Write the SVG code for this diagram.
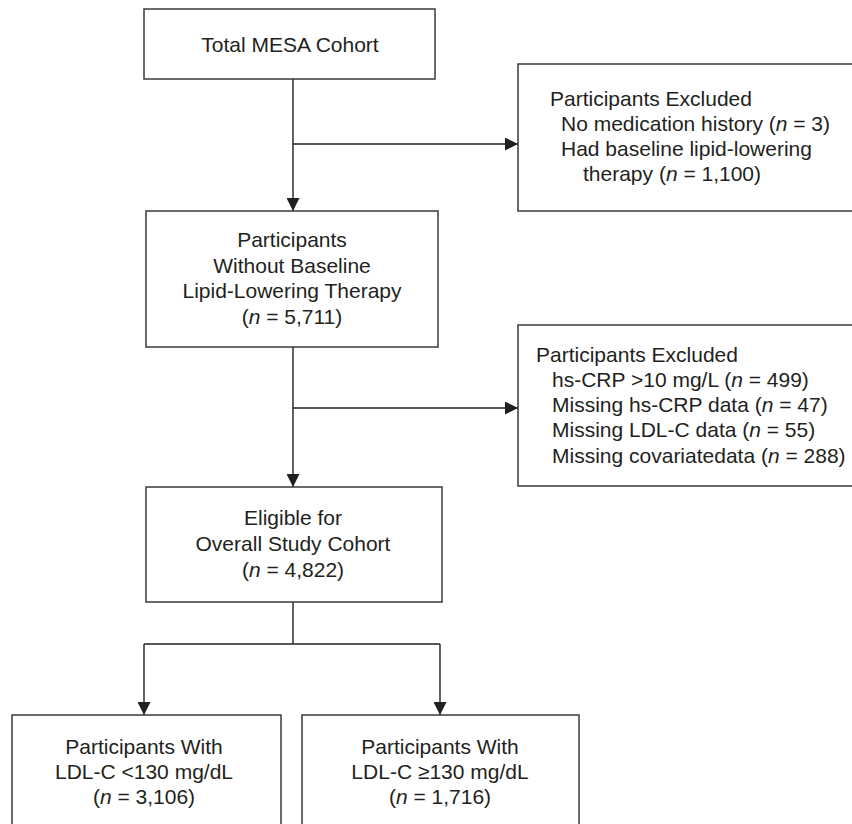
<svg xmlns="http://www.w3.org/2000/svg" width="852" height="824" viewBox="0 0 852 824">
<style>
.box{fill:#ffffff;stroke:#3a3a3a;stroke-width:1.5}
.t{font-family:"Liberation Sans",Arial,sans-serif;font-size:21px;fill:#231f20}
.c{text-anchor:middle}
.i{font-style:italic}
.ln{fill:none;stroke:#231f20;stroke-width:1.4}
</style>
<defs>
<marker id="ah" markerUnits="userSpaceOnUse" markerWidth="14" markerHeight="13" refX="13" refY="6.5" orient="auto">
<path d="M0,0 L13,6.5 L0,13 z" fill="#231f20"/>
</marker>
</defs>
<rect width="852" height="824" fill="#ffffff"/>
<g id="connectors">
<line class="ln" x1="293" y1="79" x2="293" y2="211" marker-end="url(#ah)"/>
<line class="ln" x1="293" y1="144" x2="518" y2="144" marker-end="url(#ah)"/>
<line class="ln" x1="293" y1="347" x2="293" y2="487" marker-end="url(#ah)"/>
<line class="ln" x1="293" y1="408" x2="518" y2="408" marker-end="url(#ah)"/>
<line class="ln" x1="293" y1="602" x2="293" y2="644"/>
<line class="ln" x1="144" y1="644" x2="440" y2="644"/>
<line class="ln" x1="144" y1="644" x2="144" y2="715" marker-end="url(#ah)"/>
<line class="ln" x1="440" y1="644" x2="440" y2="715" marker-end="url(#ah)"/>
</g>
<g id="total">
<rect class="box" x="144" y="9" width="291" height="70"/>
<text class="t c" x="290" y="52">Total MESA Cohort</text>
</g>
<g id="excluded1">
<rect class="box" x="518" y="64" width="345" height="147"/>
<text class="t" x="550" y="106">Participants Excluded</text>
<text class="t" x="561" y="131">No medication history (<tspan class="i">n</tspan> = 3)</text>
<text class="t" x="561" y="156">Had baseline lipid-lowering</text>
<text class="t" x="583" y="181">therapy (<tspan class="i">n</tspan> = 1,100)</text>
</g>
<g id="without">
<rect class="box" x="146" y="211" width="292" height="136"/>
<text class="t c" x="292" y="247">Participants</text>
<text class="t c" x="292" y="273">Without Baseline</text>
<text class="t c" x="292" y="298">Lipid-Lowering Therapy</text>
<text class="t c" x="292" y="324">(<tspan class="i">n</tspan> = 5,711)</text>
</g>
<g id="excluded2">
<rect class="box" x="518" y="325" width="345" height="161"/>
<text class="t" x="536" y="362">Participants Excluded</text>
<text class="t" x="552" y="387">hs-CRP &gt;10 mg/L (<tspan class="i">n</tspan> = 499)</text>
<text class="t" x="552" y="412">Missing hs-CRP data (<tspan class="i">n</tspan> = 47)</text>
<text class="t" x="552" y="437">Missing LDL-C data (<tspan class="i">n</tspan> = 55)</text>
<text class="t" x="552" y="463">Missing covariatedata (<tspan class="i">n</tspan> = 288)</text>
</g>
<g id="eligible">
<rect class="box" x="146" y="487" width="296" height="115"/>
<text class="t c" x="293" y="525">Eligible for</text>
<text class="t c" x="293" y="551">Overall Study Cohort</text>
<text class="t c" x="293" y="577">(<tspan class="i">n</tspan> = 4,822)</text>
</g>
<g id="ldl-low">
<rect class="box" x="12" y="715" width="269" height="130"/>
<text class="t c" x="144" y="754">Participants With</text>
<text class="t c" x="144" y="779">LDL-C &lt;130 mg/dL</text>
<text class="t c" x="144" y="804">(<tspan class="i">n</tspan> = 3,106)</text>
</g>
<g id="ldl-high">
<rect class="box" x="302" y="715" width="277" height="130"/>
<text class="t c" x="440" y="754">Participants With</text>
<text class="t c" x="440" y="779">LDL-C ≥130 mg/dL</text>
<text class="t c" x="440" y="804">(<tspan class="i">n</tspan> = 1,716)</text>
</g>
</svg>
